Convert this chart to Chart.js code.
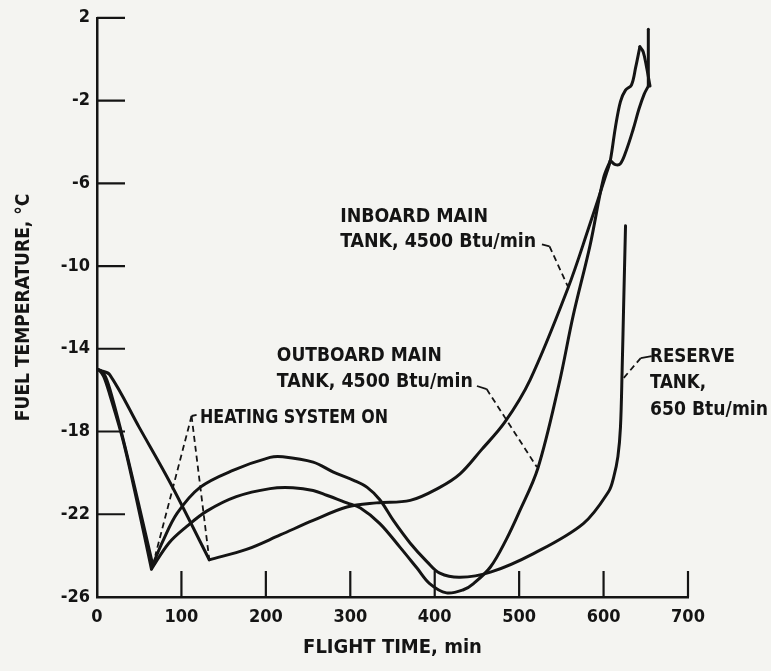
<!DOCTYPE html>
<html>
<head>
<meta charset="utf-8">
<title>Fuel temperature vs flight time</title>
<script src="https://cdn.jsdelivr.net/npm/chart.js@4.4.1/dist/chart.umd.min.js"></script>
<style>
  html, body { margin: 0; padding: 0; background: #f4f4f1; }
  #wrap { width: 771px; height: 671px; }
</style>
</head>
<body>
<div id="wrap"><canvas id="chart" width="771" height="671"></canvas></div>
<script>
// Axis ticks
const timeTicks = [0, 100, 200, 300, 400, 500, 600, 700];
const tempTicks = [-26, -22, -18, -14, -10, -6, -2, 2];

// Inboard main tank, 4500 Btu/min
const inboardTime = [0, 4, 15, 50, 87, 133, 177, 217, 256, 296, 331, 371, 406, 430, 455, 483, 513, 558, 582, 604, 608, 614, 620, 626, 633, 638, 643, 647, 651, 655];
const inboardTemp = [-15.0, -15.05, -15.25, -17.8, -20.5, -24.2, -23.7, -23.0, -22.3, -21.65, -21.45, -21.33, -20.7, -20.05, -18.9, -17.55, -15.5, -11.05, -8.2, -5.45, -4.9, -3.3, -2.05, -1.5, -1.25, -0.4, 0.6, 0.35, -0.4, -1.3];
const inboardCorners = [5, 26];

// Outboard main tank, 4500 Btu/min
const outboardTime = [0, 3, 8, 15, 31, 48, 64.5, 85, 106, 130, 165, 205, 232, 256, 272, 296, 312, 335, 359, 379, 394, 414, 434, 446, 466, 485, 500, 522, 547, 564, 584, 600, 608, 614, 620, 627, 635, 642, 648, 653, 653];
const outboardTemp = [-15.0, -15.05, -15.35, -16.2, -18.45, -21.5, -24.65, -23.4, -22.6, -21.85, -21.15, -20.76, -20.72, -20.85, -21.08, -21.45, -21.7, -22.45, -23.6, -24.6, -25.35, -25.8, -25.65, -25.35, -24.55, -23.2, -21.9, -19.8, -15.75, -12.4, -9.0, -5.74, -4.9, -5.1, -5.05, -4.4, -3.4, -2.4, -1.7, -1.3, 1.45];
const outboardCorners = [6, 32, 39];

// Reserve tank, 650 Btu/min
const reserveTime = [0, 4, 10, 18, 33, 49, 66, 78, 95, 122, 161, 205, 220, 256, 280, 304, 320, 335, 351, 371, 391, 406, 430, 466, 517, 576, 606, 612, 617, 620, 622, 624, 626];
const reserveTemp = [-15.0, -15.05, -15.35, -16.35, -18.7, -21.45, -24.45, -23.3, -21.95, -20.7, -19.88, -19.25, -19.22, -19.48, -19.96, -20.36, -20.7, -21.3, -22.3, -23.4, -24.3, -24.85, -25.05, -24.8, -23.9, -22.45, -20.9, -20.2, -19.2, -17.8, -15.0, -11.5, -8.05];
const reserveCorners = [6];

const INK = '#141414';
const FONT = "'DejaVu Sans Condensed', 'DejaVu Sans', sans-serif";

// Leader lines, in axis units; the first `solid` segments are drawn solid, the rest dashed
const leaders = [
  { pts: [[527, -8.95], [536, -9.05], [558.4, -11.05]], solid: 1 },
  { pts: [[450, -15.8], [461.5, -15.95], [521, -19.72]], solid: 1 },
  { pts: [[657, -14.35], [644, -14.45], [623, -15.45]], solid: 1 },
  { pts: [[118, -17.2], [112, -17.25], [69, -24.0]], solid: 1 },
  { pts: [[112, -17.25], [133, -24.2]], solid: 0 }
];

// Callout text: left edge (time), vertical centre (temperature), rendered width in px
const notes = [
  { text: 'INBOARD MAIN', t: 288, v: -7.6, w: 148 },
  { text: 'TANK, 4500 Btu/min', t: 288, v: -8.85, w: 196 },
  { text: 'OUTBOARD MAIN', t: 213, v: -14.35, w: 165 },
  { text: 'TANK, 4500 Btu/min', t: 213, v: -15.6, w: 196 },
  { text: 'HEATING SYSTEM ON', t: 122, v: -17.35, w: 188 },
  { text: 'RESERVE', t: 655, v: -14.4, w: 85 },
  { text: 'TANK,', t: 655, v: -15.65, w: 56 },
  { text: '650 Btu/min', t: 655, v: -16.95, w: 118 }
];

// Split a curve at its sharp corners so each smooth run keeps its own spline
function curvePieces(times, temps, corners) {
  const cuts = [0, ...corners, times.length - 1];
  const pieces = [];
  for (let k = 0; k < cuts.length - 1; k++) {
    const pts = [];
    for (let i = cuts[k]; i <= cuts[k + 1]; i++) pts.push({ x: times[i], y: temps[i] });
    pieces.push({
      data: pts, showLine: true, borderColor: INK, borderWidth: 3, tension: 0.35,
      pointRadius: 0, fill: false, borderCapStyle: 'round', borderJoinStyle: 'round'
    });
  }
  return pieces;
}

function leaderSet(l) {
  return {
    data: l.pts.map(p => ({ x: p[0], y: p[1] })),
    showLine: true, borderColor: INK, borderWidth: 1.8, tension: 0, pointRadius: 0, fill: false,
    segment: { borderDash: ctx => (ctx.p0DataIndex < l.solid ? [] : [6, 4]) }
  };
}

const datasets = [
  ...curvePieces(inboardTime, inboardTemp, inboardCorners),
  ...curvePieces(outboardTime, outboardTemp, outboardCorners),
  ...curvePieces(reserveTime, reserveTemp, reserveCorners),
  ...leaders.map(leaderSet)
];

const paper = {
  id: 'paper',
  beforeDraw(chart) {
    const c = chart.ctx;
    c.save();
    c.fillStyle = '#f4f4f1';
    c.fillRect(0, 0, chart.width, chart.height);
    c.restore();
  }
};

// Tick marks point into the plotting area
const inwardTicks = {
  id: 'inwardTicks',
  afterDraw(chart) {
    const { ctx, chartArea: a, scales: { x, y } } = chart;
    ctx.save();
    ctx.strokeStyle = INK;
    ctx.lineWidth = 2.2;
    ctx.beginPath();
    timeTicks.filter(v => v > 0).forEach(v => {
      const px = x.getPixelForValue(v);
      ctx.moveTo(px, a.bottom);
      ctx.lineTo(px, a.bottom - 26);
    });
    tempTicks.filter(v => v > -26).forEach(v => {
      const py = y.getPixelForValue(v);
      ctx.moveTo(a.left, py);
      ctx.lineTo(a.left + 28, py);
    });
    ctx.stroke();
    ctx.restore();
  }
};

const callouts = {
  id: 'callouts',
  afterDraw(chart) {
    const { ctx, scales: { x, y } } = chart;
    ctx.save();
    ctx.fillStyle = INK;
    ctx.font = "bold 20px " + FONT;
    ctx.textBaseline = 'middle';
    ctx.textAlign = 'left';
    notes.forEach(n => {
      const w = ctx.measureText(n.text).width;
      ctx.save();
      ctx.translate(x.getPixelForValue(n.t), y.getPixelForValue(n.v));
      ctx.scale(n.w / w, 1);
      ctx.fillText(n.text, 0, 0);
      ctx.restore();
    });
    ctx.restore();
  }
};

new Chart(document.getElementById('chart'), {
  type: 'scatter',
  data: { datasets },
  options: {
    responsive: false,
    animation: false,
    devicePixelRatio: 1,
    layout: { padding: { left: 0, right: 83, top: 16, bottom: 0 } },
    plugins: { legend: { display: false }, tooltip: { enabled: false } },
    scales: {
      x: {
        type: 'linear', min: 0, max: 700,
        afterFit: s => { s.height = 74; },
        afterBuildTicks: s => { s.ticks = timeTicks.map(v => ({ value: v })); },
        grid: { display: true, drawOnChartArea: false, drawTicks: false },
        border: { display: true, color: INK, width: 2.5 },
        ticks: { color: INK, font: { family: FONT, size: 18, weight: 'bold' }, padding: 10, maxRotation: 0, autoSkip: false },
        title: { display: true, text: 'FLIGHT TIME, min', color: INK, font: { family: FONT, size: 20, weight: 'bold' }, padding: { top: 0, bottom: 11 } }
      },
      y: {
        type: 'linear', min: -26, max: 2,
        afterFit: s => { s.width = 97; },
        afterBuildTicks: s => { s.ticks = tempTicks.map(v => ({ value: v })); },
        grid: { display: true, drawOnChartArea: false, drawTicks: false },
        border: { display: true, color: INK, width: 2.5 },
        ticks: { color: INK, font: { family: FONT, size: 18, weight: 'bold' }, padding: 7, autoSkip: false },
        title: { display: true, text: 'FUEL TEMPERATURE, °C', color: INK, font: { family: FONT, size: 19, weight: 'bold' }, padding: { top: 13, bottom: 0 } }
      }
    }
  },
  plugins: [paper, inwardTicks, callouts]
});
</script>
</body>
</html>
